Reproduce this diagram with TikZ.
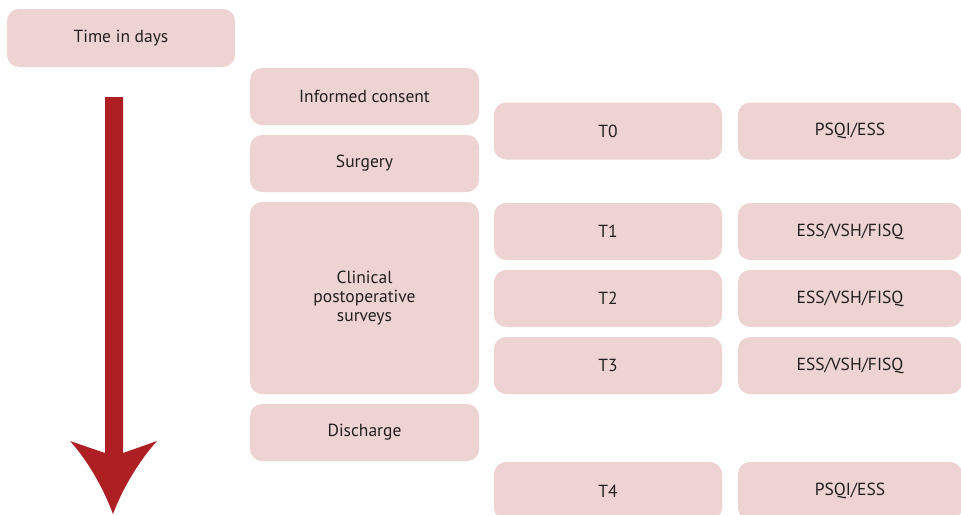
\documentclass[tikz,border=0pt]{standalone}
\usepackage{fontspec}
\setmainfont{PT Sans}
\definecolor{boxpink}{HTML}{EED3D3}
\definecolor{arrowred}{HTML}{AE1F24}
\definecolor{textgray}{HTML}{231F20}

\begin{document}
\begin{tikzpicture}[x=1pt, y=-1pt,
  stage/.style={fill=boxpink, rounded corners=12pt, inner sep=0pt,
    text=textgray, align=center,
    font=\fontsize{17.5}{19}\selectfont},
  leftbox/.style={stage, minimum width=229pt, minimum height=57pt},
  midbox/.style={stage, minimum width=228pt, minimum height=57pt},
  rightbox/.style={stage, minimum width=224pt, minimum height=57pt}]
\useasboundingbox (0,0) rectangle (961,514);
\clip (0,0) rectangle (961,514);
% time axis
\node[stage, minimum width=228pt, minimum height=58pt] (time) at (121,38) {Time in days};
\fill[arrowred] (105,97) -- (123,97) -- (123,453) -- (157,441)
  .. controls (138,462) and (122,490) .. (113,514)
  .. controls (104,490) and (89,462) .. (70,441) -- (105,453) -- cycle;
% events
\node[leftbox] (consent) at (364.5,96.5) {Informed consent};
\node[leftbox] (surgery) at (364.5,163.5) {Surgery};
\node[leftbox, minimum height=192pt] (clinical) at (364.5,298) {Clinical\\postoperative\\surveys};
\node[leftbox] (discharge) at (364.5,432.5) {Discharge};
% time points
\node[midbox] (t0) at (608,131) {T0};
\node[midbox] (t1) at (608,231.5) {T1};
\node[midbox] (t2) at (608,298.5) {T2};
\node[midbox] (t3) at (608,365.5) {T3};
\node[midbox, minimum height=58pt] (t4) at (608,491) {T4};
% questionnaires
\node[rightbox] (q0) at (850,131) {PSQI/ESS};
\node[rightbox] (q1) at (850,231.5) {ESS/VSH/FISQ};
\node[rightbox] (q2) at (850,298.5) {ESS/VSH/FISQ};
\node[rightbox] (q3) at (850,365.5) {ESS/VSH/FISQ};
\node[rightbox, minimum height=58pt] (q4) at (850,491) {PSQI/ESS};
\end{tikzpicture}
\end{document}
